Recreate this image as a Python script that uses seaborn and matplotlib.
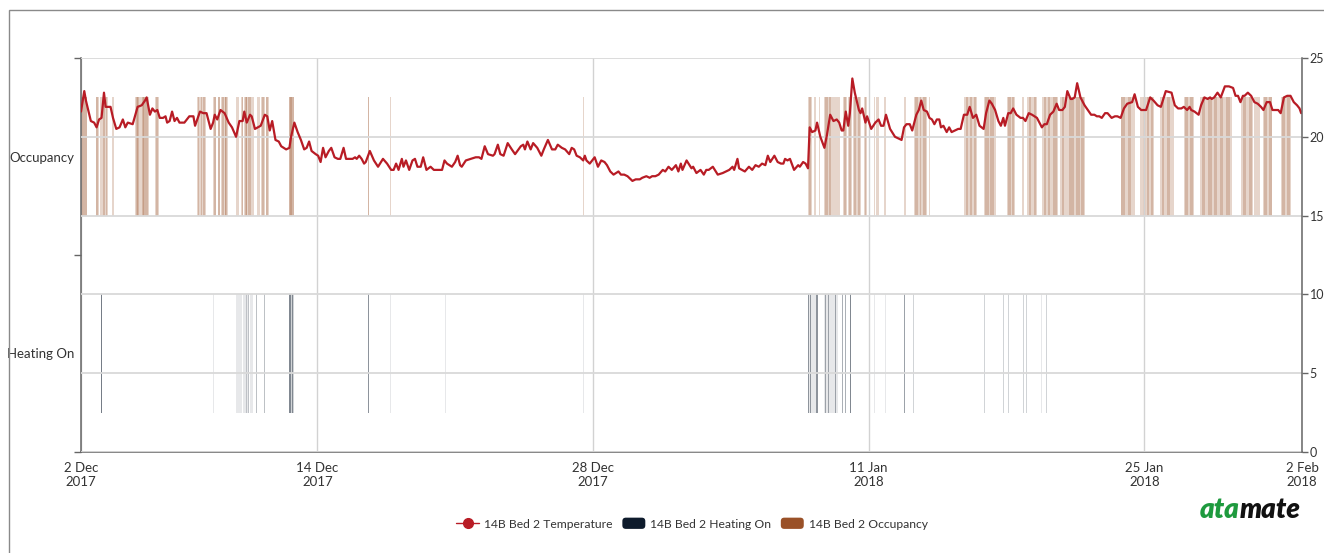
import matplotlib
matplotlib.use("Agg")
import matplotlib.pyplot as plt
import seaborn as sns
import pandas as pd
import numpy as np
from matplotlib.patches import FancyBboxPatch, Patch, Rectangle
from matplotlib.lines import Line2D
from matplotlib.legend_handler import HandlerPatch

# Datos: horas desde el 2 Dic 2017 00:00
temp_hours = [
    0, 4, 6, 12, 16, 19, 22, 25, 28, 30, 36, 39, 43, 47, 51, 54, 57, 63, 69, 74,
    78, 80, 84, 87, 90, 93, 96, 100, 103, 105, 108, 111, 114, 117, 120, 126, 132, 137, 139, 145,
    149, 153, 158, 161, 163, 166, 170, 175, 180, 184, 189, 193, 197, 199, 202, 206, 208, 212, 219, 224,
    227, 230, 233, 237, 241, 244, 250, 254, 256, 260, 264, 268, 272, 275, 278, 281, 286, 289, 292, 295,
    298, 302, 305, 309, 313, 316, 320, 323, 328, 331, 334, 336, 339, 342, 345, 347, 352, 357, 362, 368,
    373, 378, 381, 384, 387, 391, 393, 396, 400, 404, 407, 410, 414, 417, 421, 426, 430, 440, 443, 446,
    452, 456, 459, 462, 464, 469, 475, 481, 485, 488, 492, 496, 502, 504, 508, 511, 515, 520, 525, 529,
    536, 539, 541, 544, 548, 551, 556, 561, 564, 569, 574, 578, 581, 586, 590, 595, 598, 601, 604, 608,
    612, 614, 616, 620, 626, 630, 634, 638, 641, 645, 649, 652, 655, 658, 662, 666, 672, 676, 681, 684,
    689, 693, 696, 700, 704, 709, 712, 716, 720, 725, 728, 731, 733, 738, 744, 746, 750, 755, 759, 762,
    765, 770, 776, 782, 786, 790, 794, 796, 800, 802, 809, 814, 818, 822, 826, 830, 834, 837, 840, 845,
    849, 853, 856, 858, 861, 864, 869, 874, 876, 880, 883, 886, 888, 891, 895, 897, 901, 906, 909, 913,
    917, 921, 924, 927, 929, 932, 935, 937, 940, 943, 948, 950, 952, 956, 958, 963, 968, 972, 975, 978,
    981, 986, 992, 996, 1000, 1003, 1006, 1010, 1013, 1018, 1021, 1024, 1027, 1031, 1034, 1037, 1040, 1043, 1046, 1048,
    1051, 1055, 1058, 1061, 1065, 1069, 1072, 1076, 1080, 1083, 1087, 1091, 1095, 1100, 1103, 1107, 1110, 1114, 1118, 1121,
    1124, 1126, 1130, 1133, 1136, 1140, 1145, 1148, 1151, 1155, 1159, 1165, 1171, 1174, 1177, 1181, 1185, 1189, 1192, 1196,
    1199, 1202, 1206, 1208, 1211, 1214, 1218, 1223, 1227, 1231, 1235, 1238, 1241, 1244, 1248, 1251, 1256, 1260, 1263, 1267,
    1271, 1275, 1281, 1284, 1288, 1292, 1298, 1303, 1307, 1312, 1316, 1322, 1329, 1333, 1337, 1341, 1344, 1348, 1351, 1353,
    1357, 1362, 1365, 1369, 1373, 1376, 1378, 1381, 1385, 1389, 1394, 1399, 1404, 1407, 1410, 1413, 1416, 1418, 1422, 1426,
    1430, 1434, 1438, 1441, 1445, 1449, 1452, 1459, 1462, 1466, 1470, 1474, 1478, 1482, 1485, 1487, 1488,
]
temp_c = [
    21.6, 22.9, 22.3, 21.0, 20.9, 20.6, 21.1, 21.2, 22.8, 21.9, 21.9, 21.2, 20.5, 20.6, 21.1, 20.6, 20.9, 20.8, 21.9, 22.0,
    22.3, 22.5, 21.4, 21.8, 21.6, 21.7, 21.2, 21.2, 21.3, 20.9, 21.0, 21.6, 21.0, 21.2, 20.9, 20.9, 21.3, 21.3, 20.7, 21.6,
    21.5, 21.5, 20.5, 20.9, 21.4, 21.1, 21.7, 21.5, 20.9, 20.6, 20.0, 21.0, 21.0, 21.6, 20.9, 21.4, 21.3, 20.5, 20.7, 21.4,
    21.3, 20.4, 21.0, 19.8, 19.7, 19.4, 19.2, 19.3, 20.0, 20.9, 20.3, 19.8, 19.2, 19.3, 19.7, 19.1, 18.9, 18.8, 18.4, 19.3,
    18.7, 19.1, 19.3, 18.7, 18.6, 18.6, 19.3, 18.6, 18.6, 18.6, 18.7, 18.6, 18.8, 18.6, 18.3, 18.4, 19.1, 18.5, 18.1, 18.6,
    18.3, 17.9, 17.9, 18.3, 17.9, 18.6, 18.1, 18.5, 17.9, 18.5, 18.6, 18.1, 18.1, 18.7, 17.9, 18.1, 17.9, 17.9, 18.5, 18.3,
    18.1, 18.4, 18.8, 18.2, 18.1, 18.5, 18.6, 18.7, 18.7, 18.6, 19.4, 18.9, 18.8, 18.9, 19.5, 18.9, 18.8, 19.6, 19.2, 18.9,
    19.4, 19.5, 19.2, 19.7, 19.2, 19.6, 19.3, 18.8, 19.2, 19.8, 19.2, 19.2, 19.5, 19.3, 19.2, 18.9, 19.3, 19.2, 18.8, 18.7,
    18.5, 18.8, 18.5, 18.3, 18.7, 18.1, 18.5, 18.4, 18.2, 17.8, 17.6, 17.7, 17.8, 17.6, 17.6, 17.5, 17.2, 17.3, 17.3, 17.4,
    17.5, 17.4, 17.5, 17.5, 17.6, 17.9, 17.8, 18.1, 17.9, 18.2, 17.8, 18.3, 17.9, 18.5, 18.0, 18.1, 17.7, 17.9, 17.6, 17.9,
    17.9, 18.1, 17.6, 17.7, 17.8, 17.9, 18.1, 17.9, 18.6, 18.0, 17.8, 18.1, 17.9, 18.2, 18.1, 18.3, 18.2, 18.8, 18.4, 18.8,
    18.4, 18.3, 18.3, 18.6, 18.5, 18.6, 17.9, 18.2, 18.1, 18.4, 18.3, 18.0, 20.6, 20.3, 20.4, 20.9, 20.0, 19.3, 20.1, 21.4,
    21.0, 21.1, 20.9, 20.4, 20.4, 21.6, 20.7, 21.5, 23.7, 22.8, 21.7, 21.5, 21.8, 20.9, 21.3, 20.5, 20.9, 21.1, 20.7, 20.7,
    21.4, 20.5, 20.0, 19.9, 19.8, 20.6, 20.8, 20.8, 20.4, 21.4, 21.7, 22.3, 21.7, 21.6, 21.2, 21.1, 20.8, 21.1, 21.1, 20.6,
    20.7, 20.3, 20.6, 20.3, 20.4, 20.5, 20.5, 21.4, 21.4, 21.9, 21.2, 21.4, 20.7, 20.5, 21.5, 22.3, 22.1, 21.7, 21.0, 20.7,
    21.2, 20.7, 21.5, 21.5, 21.8, 21.4, 21.2, 21.2, 21.0, 21.5, 21.4, 21.2, 20.6, 20.8, 20.8, 21.4, 21.6, 22.1, 21.7, 21.7,
    21.9, 22.9, 22.4, 22.4, 22.5, 23.4, 22.5, 22.0, 21.7, 21.4, 21.4, 21.3, 21.3, 21.2, 21.5, 21.5, 21.2, 21.3, 21.3, 21.2,
    21.8, 22.1, 22.2, 22.7, 21.9, 21.7, 21.7, 22.5, 22.3, 22.0, 21.9, 22.9, 22.8, 22.0, 21.8, 21.8, 21.9, 21.7, 21.9, 21.7,
    21.6, 21.4, 22.0, 22.5, 22.4, 22.5, 22.4, 22.5, 22.8, 22.5, 23.2, 23.2, 23.1, 22.6, 22.6, 22.2, 22.6, 22.6, 22.8, 22.6,
    22.2, 22.1, 21.9, 21.7, 22.2, 22.2, 21.7, 21.7, 21.5, 22.5, 22.6, 22.6, 22.2, 22.0, 21.8, 21.5, 21.6,
]

# Lecturas de ocupación (inicio, fin en horas); las que se solapan se ven más oscuras
occ_start = [
    0.5, 1, 18, 18.5, 23, 27, 27.3, 29, 30, 38,
    66, 67, 68, 74, 75, 81, 90, 91,
    141, 142, 146, 149, 161, 162, 167, 167.5, 171, 172, 175, 176,
    189, 195, 196, 199, 200, 201, 203, 204, 208,
    215, 219, 220, 225, 226, 253, 254, 255,
    302, 349.6, 349.6, 377, 442, 467, 612,
    886, 887, 893, 899, 906, 907, 911, 915, 929, 930, 935, 935.5,
    941, 942, 947, 954, 955, 966, 969, 979, 1003,
    1015, 1016, 1022, 1026, 1034, 1076, 1078, 1084, 1088,
    1101, 1102, 1108, 1128, 1130, 1135, 1147, 1153, 1155, 1161,
    1171, 1173, 1178, 1185, 1193, 1195, 1204, 1212, 1219, 1239, 1245,
    1267, 1268, 1276, 1291, 1297, 1299, 1304, 1315, 1317, 1323,
    1344, 1346, 1352, 1364, 1366, 1373, 1381, 1388, 1395,
    1414, 1416, 1424, 1430, 1440, 1442, 1448, 1462, 1464, 1470, 1487.5,
]
occ_end = [
    7.5, 7, 21.5, 21, 27, 29, 28.7, 32.5, 31.5, 40,
    83, 71, 70, 80, 77, 82, 95, 94,
    152, 144, 148, 151, 165, 164, 170, 169, 179, 174, 178, 177,
    193, 198, 197.5, 203, 202, 202, 208, 207, 211,
    218, 224, 223, 229, 228, 260, 259, 257,
    302.4, 350.4, 350.4, 377.3, 442.3, 467.3, 612.4,
    891, 890, 896, 901, 915, 910, 914, 925, 933, 932, 939, 938.5,
    950, 945, 949, 958, 957, 968, 972, 981, 1006,
    1031, 1020, 1024, 1030, 1035, 1092, 1081, 1086, 1091,
    1115, 1106, 1113, 1138, 1133, 1137, 1149, 1165, 1158, 1164,
    1176, 1191, 1181, 1190, 1223, 1198, 1210, 1217, 1222, 1239.5, 1245.5,
    1284, 1272, 1280, 1295, 1308, 1302, 1306, 1332, 1320, 1327,
    1356, 1349, 1355, 1403, 1370, 1378, 1385, 1392, 1400,
    1428, 1420, 1427, 1437, 1452, 1445, 1451, 1475, 1467, 1473, 1488,
]

# Lecturas de calefacción (inicio, fin en horas, nº de lecturas solapadas)
heat_start = [
    17, 24.8, 67, 140, 161, 167,
    189, 198, 206, 201, 204, 213.5, 220, 222.5,
    253, 254, 257, 303, 349.5, 377, 444, 612,
    886.5, 886.5, 888.5, 891.5, 893, 895.5, 897.5,
    906, 906.5, 910.5, 914, 918.5,
    927.5, 931.5, 937.5,
    955, 967, 980, 1003.5, 1014,
    1078, 1083, 1101, 1124, 1130, 1148, 1152, 1170, 1176, 1178,
]
heat_end = [
    17.6, 25.8, 67.5, 140.5, 161.5, 167.5,
    196, 205, 210, 201.8, 204.8, 214.5, 221, 224,
    259, 256, 258.5, 303.5, 350.7, 377.5, 444.4, 612.5,
    898, 887.5, 889.5, 892.5, 893.6, 896.5, 898.5,
    922, 907.5, 911.5, 914.6, 919.5,
    928.5, 932.5, 938.7,
    955.5, 967.5, 980.5, 1004.5, 1014.6,
    1078.5, 1083.5, 1101.7, 1124.7, 1130.7, 1148.6, 1152.6, 1171, 1177, 1179,
]
heat_n = [
    1, 8, 1, 1, 1, 1,
    1, 1, 1, 2, 2, 3, 3, 3,
    2, 5, 5, 1, 6, 1, 1, 1,
    1, 5, 5, 3, 2, 5, 5,
    1, 4, 4, 2, 4,
    4, 4, 7,
    1, 1, 1, 5, 2,
    1, 1, 2, 2, 2, 2, 2, 1, 2, 2,
]

tick_days = [0, 12, 26, 40, 54, 62]
tick_labels = ["2 Dec\n2017", "14 Dec\n2017", "28 Dec\n2017", "11 Jan\n2018", "25 Jan\n2018", "2 Feb\n2018"]
categories = ["Heating On", "Occupancy"]
temp_ticks = [0, 5, 10, 15, 20, 25]

RED = "#b81c25"
NAVY = "#0e1b2c"
BROWN = "#9a5128"
TXT = "#333333"
AXC = "#666666"

sns.set_theme(style="white")
plt.rcParams['font.family'] = ['Lato', 'DejaVu Sans']

fig = plt.figure(figsize=(13.24, 5.53), dpi=100)
ax = fig.add_axes([81 / 1324, 101 / 553, 1221 / 1324, 394 / 553])
ax_t = ax.twinx()


def draw_events(starts, ends, row, color, alpha):
    s = np.array(starts) / 24.0
    w = (np.array(ends) - np.array(starts)) / 24.0
    ax.bar(s, 0.6, width=w, bottom=row + 0.2, align='edge', color=color,
           alpha=alpha, linewidth=0, zorder=2)


draw_events(occ_start, occ_end, 1, BROWN, 0.24)
# cada lectura de calefacción se dibuja con opacidad según las solapadas
for s, e, n in zip(heat_start, heat_end, heat_n):
    draw_events([s], [e], 0, NAVY, 1 - 0.9 ** n)

# Línea de temperatura
df = pd.DataFrame({"day": np.array(temp_hours) / 24.0, "temp": temp_c})
sns.lineplot(data=df, x="day", y="temp", ax=ax_t, color=RED, linewidth=1.6)

ax.set_xlim(0, 62)
ax.set_ylim(0, 2)
ax_t.set_ylim(0, 25)

ax.set_xticks(tick_days)
ax.set_xticklabels(tick_labels)
ax.set_yticks([0, 1, 2])
ax.set_yticklabels([])
ax.set_yticks([0.5, 1.5], minor=True)
ax.set_yticklabels(categories, minor=True)
ax_t.set_yticks(temp_ticks)

ax.tick_params(axis='x', length=5, width=1, color=AXC, labelsize=9.5, labelcolor=TXT, pad=2)
ax.tick_params(axis='y', which='major', left=True, length=5, width=1, color=AXC)
ax.tick_params(axis='y', which='minor', left=True, length=0, pad=5, labelsize=9.5, labelcolor=TXT)
ax_t.tick_params(axis='y', right=True, length=4, width=1, color=AXC, labelsize=9, labelcolor=TXT, pad=1.5)

ax.grid(axis='x', color='#d2d2d2', linewidth=1)
ax.set_axisbelow(True)
ax_t.grid(axis='y', color='#d9d9d9', linewidth=1.3)
ax_t.set_axisbelow(True)

for a in (ax, ax_t):
    a.set_xlabel('')
    a.set_ylabel('')
    for sp in a.spines.values():
        sp.set_visible(False)
ax.spines['left'].set_visible(True)
ax.spines['bottom'].set_visible(True)
ax_t.spines['right'].set_visible(True)
for sp in (ax.spines['left'], ax.spines['bottom'], ax_t.spines['right']):
    sp.set_color(AXC)
    sp.set_linewidth(1.1)


# Leyenda con rectángulos redondeados
class RoundHandler(HandlerPatch):
    def create_artists(self, legend, orig_handle, xdescent, ydescent, width, height, fontsize, trans):
        p = FancyBboxPatch((-xdescent, -ydescent - 1), width, height + 2,
                           boxstyle="round,pad=0,rounding_size=2.5",
                           fc=orig_handle.get_facecolor(), ec='none', transform=trans)
        return [p]


handles = [
    Line2D([], [], color=RED, linewidth=1, marker='o', markersize=7),
    Patch(facecolor=NAVY),
    Patch(facecolor=BROWN),
]
labels = ["14B Bed 2 Temperature", "14B Bed 2 Heating On", "14B Bed 2 Occupancy"]
fig.legend(handles, labels, loc='center', bbox_to_anchor=(692 / 1324, 1 - 524 / 553),
           ncol=3, frameon=False, fontsize=8.7, labelcolor=TXT, handlelength=1.9,
           handletextpad=0.4, columnspacing=0.8,
           handler_map={Patch: RoundHandler()})

# Logo
fig.text(1240 / 1324, 1 - 510 / 553, "ata", ha='right', va='center', color='#1e9a3e',
         fontsize=20, fontweight='heavy', fontstyle='italic')
fig.text(1240 / 1324, 1 - 510 / 553, "mate", ha='left', va='center', color='#111111',
         fontsize=20, fontweight='heavy', fontstyle='italic')

# Marco exterior
fig.add_artist(Rectangle((9 / 1324, -0.05), 1.0, (553 - 10) / 553 + 0.05,
                         transform=fig.transFigure, fill=False, ec='#8a8a8a', lw=1))

fig.savefig("out.png", dpi=100)
plt.close()
